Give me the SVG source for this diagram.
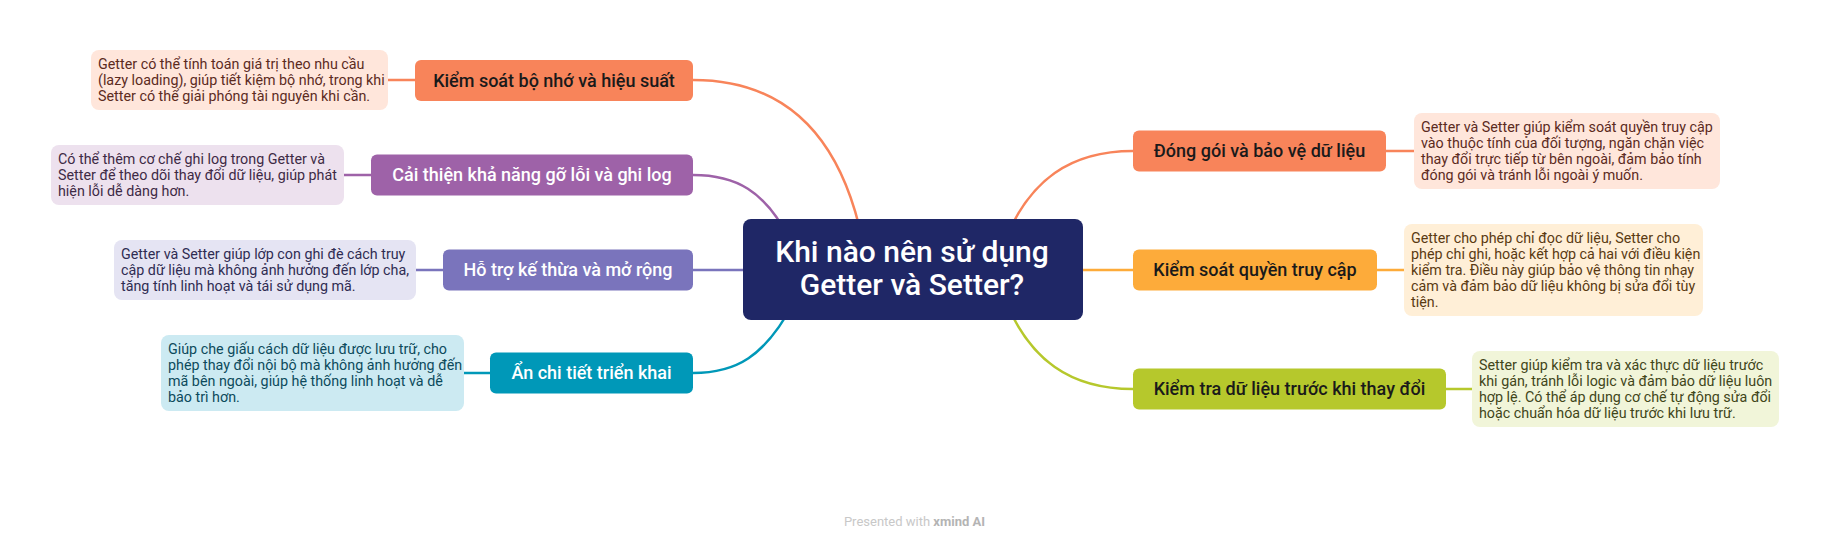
<svg xmlns="http://www.w3.org/2000/svg" width="1829" height="547" viewBox="0 0 1829 547">
<style>
  text { font-family: "Roboto", "Noto Sans", "Liberation Sans", sans-serif; }
  .node-t { font-size: 18px; font-weight: 500; text-anchor: middle; }
  .dark { fill: #1a1a1a; }
  .light { fill: #ffffff; }
  .note-t { font-size: 14.3px; }
  .conn { fill: none; stroke-width: 2.5; stroke-linecap: round; }
  .c-orange { stroke: #F8845A; }
  .c-purple { stroke: #9E62A8; }
  .c-indigo { stroke: #7A74BC; }
  .c-teal { stroke: #0098B8; }
  .c-amber { stroke: #FDAB3A; }
  .c-green { stroke: #B6C82C; }
</style>
<rect width="1829" height="547" fill="#ffffff"/>

<g id="connectors">
  <path class="conn c-orange" d="M693 80 C780 80 845 130 866 260"/>
  <path class="conn c-purple" d="M693 175 C735 175 765 190 790 240"/>
  <path class="conn c-indigo" d="M693 270 L760 270"/>
  <path class="conn c-teal" d="M693 373 C735 373 765 358 795 300"/>
  <path class="conn c-orange" d="M1133 151 C1070 151 1030 180 1005 240"/>
  <path class="conn c-amber" d="M1070 270 L1133 270"/>
  <path class="conn c-green" d="M1133 389 C1070 389 1030 360 1005 300"/>
  <path class="conn c-orange" d="M388 80 L415 80"/>
  <path class="conn c-purple" d="M344 175 L371 175"/>
  <path class="conn c-indigo" d="M416 270 L443 270"/>
  <path class="conn c-teal" d="M464 373 L490 373"/>
  <path class="conn c-orange" d="M1386 151 L1414 151"/>
  <path class="conn c-amber" d="M1377 270 L1404 270"/>
  <path class="conn c-green" d="M1446 389 L1472 389"/>
</g>

<g id="central">
  <rect x="743" y="219" width="340" height="101" rx="8" fill="#1F2766"/>
  <text x="912" y="262" font-size="30" font-weight="500" text-anchor="middle" fill="#ffffff">Khi nào nên sử dụng</text>
  <text x="912" y="295" font-size="30" font-weight="500" text-anchor="middle" fill="#ffffff">Getter và Setter?</text>
</g>

<g id="topic-bo-nho">
  <rect x="415" y="60" width="278" height="41" rx="6" fill="#F8845A"/>
  <text class="node-t dark" x="554" y="86.5">Kiểm soát bộ nhớ và hiệu suất</text>
</g>
<g id="note-bo-nho">
  <rect x="91" y="50" width="297" height="60" rx="8" fill="#FFE6DB"/>
  <text class="note-t" fill="#5C2B1E">
    <tspan x="98" y="69">Getter có thể tính toán giá trị theo nhu cầu</tspan>
    <tspan x="98" y="85">(lazy loading), giúp tiết kiệm bộ nhớ, trong khi</tspan>
    <tspan x="98" y="101">Setter có thể giải phóng tài nguyên khi cần.</tspan>
  </text>
</g>

<g id="topic-go-loi">
  <rect x="371" y="154.5" width="322" height="41" rx="6" fill="#9E62A8"/>
  <text class="node-t light" x="532" y="181">Cải thiện khả năng gỡ lỗi và ghi log</text>
</g>
<g id="note-go-loi">
  <rect x="51" y="145" width="293" height="60" rx="8" fill="#EDE1EE"/>
  <text class="note-t" fill="#3E2A45">
    <tspan x="58" y="164">Có thể thêm cơ chế ghi log trong Getter và</tspan>
    <tspan x="58" y="180">Setter để theo dõi thay đổi dữ liệu, giúp phát</tspan>
    <tspan x="58" y="196">hiện lỗi dễ dàng hơn.</tspan>
  </text>
</g>

<g id="topic-ke-thua">
  <rect x="443" y="249.5" width="250" height="41" rx="6" fill="#7A74BC"/>
  <text class="node-t light" x="568" y="276">Hỗ trợ kế thừa và mở rộng</text>
</g>
<g id="note-ke-thua">
  <rect x="114" y="240" width="302" height="60" rx="8" fill="#E5E4F3"/>
  <text class="note-t" fill="#2F2C52">
    <tspan x="121" y="259">Getter và Setter giúp lớp con ghi đè cách truy</tspan>
    <tspan x="121" y="275">cập dữ liệu mà không ảnh hưởng đến lớp cha,</tspan>
    <tspan x="121" y="291">tăng tính linh hoạt và tái sử dụng mã.</tspan>
  </text>
</g>

<g id="topic-an-chi-tiet">
  <rect x="490" y="352.5" width="203" height="41" rx="6" fill="#0098B8"/>
  <text class="node-t light" x="591.5" y="379">Ẩn chi tiết triển khai</text>
</g>
<g id="note-an-chi-tiet">
  <rect x="161" y="335" width="303" height="76" rx="8" fill="#CCEAF2"/>
  <text class="note-t" fill="#0D4A5C">
    <tspan x="168" y="354">Giúp che giấu cách dữ liệu được lưu trữ, cho</tspan>
    <tspan x="168" y="370">phép thay đổi nội bộ mà không ảnh hưởng đến</tspan>
    <tspan x="168" y="386">mã bên ngoài, giúp hệ thống linh hoạt và dễ</tspan>
    <tspan x="168" y="402">bảo trì hơn.</tspan>
  </text>
</g>

<g id="topic-dong-goi">
  <rect x="1133" y="130.5" width="253" height="41" rx="6" fill="#F8845A"/>
  <text class="node-t dark" x="1259.5" y="157">Đóng gói và bảo vệ dữ liệu</text>
</g>
<g id="note-dong-goi">
  <rect x="1414" y="113" width="306" height="76" rx="8" fill="#FFE6DB"/>
  <text class="note-t" fill="#5C2B1E">
    <tspan x="1421" y="132">Getter và Setter giúp kiểm soát quyền truy cập</tspan>
    <tspan x="1421" y="148">vào thuộc tính của đối tượng, ngăn chặn việc</tspan>
    <tspan x="1421" y="164">thay đổi trực tiếp từ bên ngoài, đảm bảo tính</tspan>
    <tspan x="1421" y="180">đóng gói và tránh lỗi ngoài ý muốn.</tspan>
  </text>
</g>

<g id="topic-quyen-truy-cap">
  <rect x="1133" y="249.5" width="244" height="41" rx="6" fill="#FDAB3A"/>
  <text class="node-t dark" x="1255" y="276">Kiểm soát quyền truy cập</text>
</g>
<g id="note-quyen-truy-cap">
  <rect x="1404" y="224" width="299" height="92" rx="8" fill="#FFEFD7"/>
  <text class="note-t" fill="#5A3A12">
    <tspan x="1411" y="243">Getter cho phép chỉ đọc dữ liệu, Setter cho</tspan>
    <tspan x="1411" y="259">phép chỉ ghi, hoặc kết hợp cả hai với điều kiện</tspan>
    <tspan x="1411" y="275">kiểm tra. Điều này giúp bảo vệ thông tin nhạy</tspan>
    <tspan x="1411" y="291">cảm và đảm bảo dữ liệu không bị sửa đổi tùy</tspan>
    <tspan x="1411" y="307">tiện.</tspan>
  </text>
</g>

<g id="topic-kiem-tra">
  <rect x="1133" y="368.5" width="313" height="41" rx="6" fill="#B6C82C"/>
  <text class="node-t dark" x="1289.5" y="395">Kiểm tra dữ liệu trước khi thay đổi</text>
</g>
<g id="note-kiem-tra">
  <rect x="1472" y="351" width="307" height="76" rx="8" fill="#F1F5D9"/>
  <text class="note-t" fill="#41461A">
    <tspan x="1479" y="370">Setter giúp kiểm tra và xác thực dữ liệu trước</tspan>
    <tspan x="1479" y="386">khi gán, tránh lỗi logic và đảm bảo dữ liệu luôn</tspan>
    <tspan x="1479" y="402">hợp lệ. Có thể áp dụng cơ chế tự động sửa đổi</tspan>
    <tspan x="1479" y="418">hoặc chuẩn hóa dữ liệu trước khi lưu trữ.</tspan>
  </text>
</g>

<g id="footer">
  <text x="914.5" y="526" font-size="13" text-anchor="middle" fill="#C8C8C8">Presented with <tspan font-weight="700" fill="#B4B4B4">xmind AI</tspan></text>
</g>
</svg>
